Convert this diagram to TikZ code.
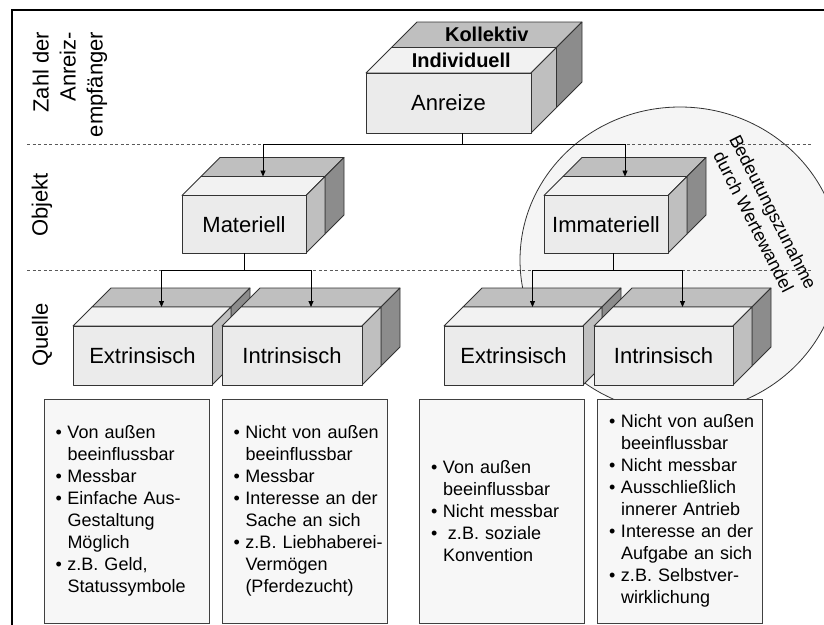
\documentclass[tikz,border=0pt]{standalone}
\usepackage{fontspec}
\setmainfont{Liberation Sans}
\usetikzlibrary{arrows.meta}
\tikzset{
  cubeface/.style={draw=black!80, line width=0.8pt, line join=round},
  frontbox/.style={cubeface, fill=black!8, inner sep=0pt, font=\fontsize{22}{26}\selectfont},
  toplabel/.style={inner sep=0pt, font=\bfseries\fontsize{20}{24}\selectfont},
  notebox/.style={draw=black!75, fill=black!3, line width=0.8pt, minimum width=165pt, minimum height=224pt, text width=142pt, inner xsep=11.5pt, align=left, font=\fontsize{18}{22}\selectfont},
  rowlabel/.style={rotate=90, align=right, inner sep=0pt, font=\fontsize{22}{27}\selectfont},
  trendlabel/.style={rotate=-63, align=center, inner sep=0pt, font=\fontsize{18}{22}\selectfont},
  link/.style={line width=0.8pt},
  arrow/.style={-{Triangle[length=6pt,width=5pt]}, line width=0.8pt},
  sepline/.style={draw=black!65, line width=0.8pt, dash pattern=on 3pt off 2.5pt},
  zone/.style={draw=black!80, fill=black!4, line width=0.8pt}
}
% bullet lines with a hanging indent
\newcommand{\punkt}[1]{\mbox{\makebox[12pt][l]{\textbullet}#1}}
\newcommand{\weiter}[1]{\mbox{\hspace*{12pt}#1}}
% two cubes, one behind the other: name, x1, y1, x2, y2 (front face), depth, label
\newcommand{\stackcube}[7]{%
  \filldraw[cubeface, fill=black!25] ({#2+#6},{#3-#6}) -- ({#4+#6},{#3-#6}) -- ({#4+2*#6},{#3-2*#6}) -- ({#2+2*#6},{#3-2*#6}) -- cycle;
  \filldraw[cubeface, fill=black!45] ({#4+#6},{#3-#6}) -- ({#4+2*#6},{#3-2*#6}) -- ({#4+2*#6},{#5-2*#6}) -- ({#4+#6},{#5-#6}) -- cycle;
  \filldraw[cubeface, fill=black!5] (#2,#3) -- (#4,#3) -- ({#4+#6},{#3-#6}) -- ({#2+#6},{#3-#6}) -- cycle;
  \filldraw[cubeface, fill=black!25] (#4,#3) -- ({#4+#6},{#3-#6}) -- ({#4+#6},{#5-#6}) -- (#4,#5) -- cycle;
  \node[frontbox, minimum width={#4-#2}, minimum height={#5-#3}] (#1) at ({(#2+#4)/2},{(#3+#5)/2}) {#7};
  \coordinate (#1-top) at ({(#2+#4)/2+#6},{#3-#6});
  \coordinate (#1-ftop) at ({(#2+#4)/2+#6/2},{#3-#6/2});
  \coordinate (#1-btop) at ({(#2+#4)/2+3*#6/2},{#3-3*#6/2});
}

\begin{document}
\begin{tikzpicture}[x=1pt, y=-1pt]
\useasboundingbox (0,0) rectangle (824,624);

% range of the value change
\filldraw[zone] (680,260) ellipse [x radius=160, y radius=153];

\draw[sepline] (27,144) -- (812,144);
\draw[sepline] (27,270) -- (812,270);

\stackcube{anreize}{366}{73}{531}{133}{25.5}{Anreize}
\stackcube{materiell}{182}{195.5}{306}{253}{19}{Materiell}
\stackcube{immateriell}{544}{195.5}{668}{253}{19}{Immateriell}
\stackcube{extrL}{73}{326}{212}{385}{19}{Extrinsisch}
\stackcube{intrL}{222}{326}{362}{385}{19}{Intrinsisch}
\stackcube{extrR}{444}{326}{583}{385}{19}{Extrinsisch}
\stackcube{intrR}{594}{326}{733}{385}{19}{Intrinsisch}
\node[toplabel] (individuell) at (anreize-ftop) {Individuell};
\node[toplabel] (kollektiv) at (anreize-btop) {Kollektiv};

% tree
\coordinate (busA) at (462,144);
\coordinate (busM) at (244,270);
\coordinate (busI) at (613,270);
\draw[link] (anreize.south -| busA) -- (busA);
\draw[arrow] (busA) -| (materiell-top);
\draw[arrow] (busA) -| (immateriell-top);
\draw[link] (materiell.south -| busM) -- (busM);
\draw[arrow] (busM) -| (extrL-top);
\draw[arrow] (busM) -| (intrL-top);
\draw[link] (immateriell.south -| busI) -- (busI);
\draw[arrow] (busI) -| (extrR-top);
\draw[arrow] (busI) -| (intrR-top);

\node[rowlabel] (zahl) at (70,84.5) {Zahl der\\Anreiz-\\empfänger};
\node[rowlabel] (objekt) at (42,205) {Objekt};
\node[rowlabel] (quelle) at (42,335) {Quelle};
\node[trendlabel] (trend) at (763.5,217) {Bedeutungszunahme\\durch Wertewandel};

\node[notebox] (noteA) at (126.5,511) {\punkt{Von außen}\\\weiter{beeinflussbar}\\\punkt{Messbar}\\\punkt{Einfache Aus-}\\\weiter{Gestaltung}\\\weiter{Möglich}\\\punkt{z.B. Geld,}\\\weiter{Statussymbole}};
\node[notebox] (noteB) at (304.5,511) {\punkt{Nicht von außen}\\\weiter{beeinflussbar}\\\punkt{Messbar}\\\punkt{Interesse an der}\\\weiter{Sache an sich}\\\punkt{z.B. Liebhaberei-}\\\weiter{Vermögen}\\\weiter{(Pferdezucht)}};
\node[notebox] (noteC) at (502,511) {\punkt{Von außen}\\\weiter{beeinflussbar}\\\punkt{Nicht messbar}\\\punkt{\hspace{5pt}z.B. soziale}\\\weiter{Konvention}};
\node[notebox] (noteD) at (680,511) {\punkt{Nicht von außen}\\\weiter{beeinflussbar}\\\punkt{Nicht messbar}\\\punkt{Ausschließlich}\\\weiter{innerer Antrieb}\\\punkt{Interesse an der}\\\weiter{Aufgabe an sich}\\\punkt{z.B. Selbstver-}\\\weiter{wirklichung}};

% outer frame
\draw[line width=2.5pt] (12,640) -- (12,10) -- (840,10);
\end{tikzpicture}
\end{document}
